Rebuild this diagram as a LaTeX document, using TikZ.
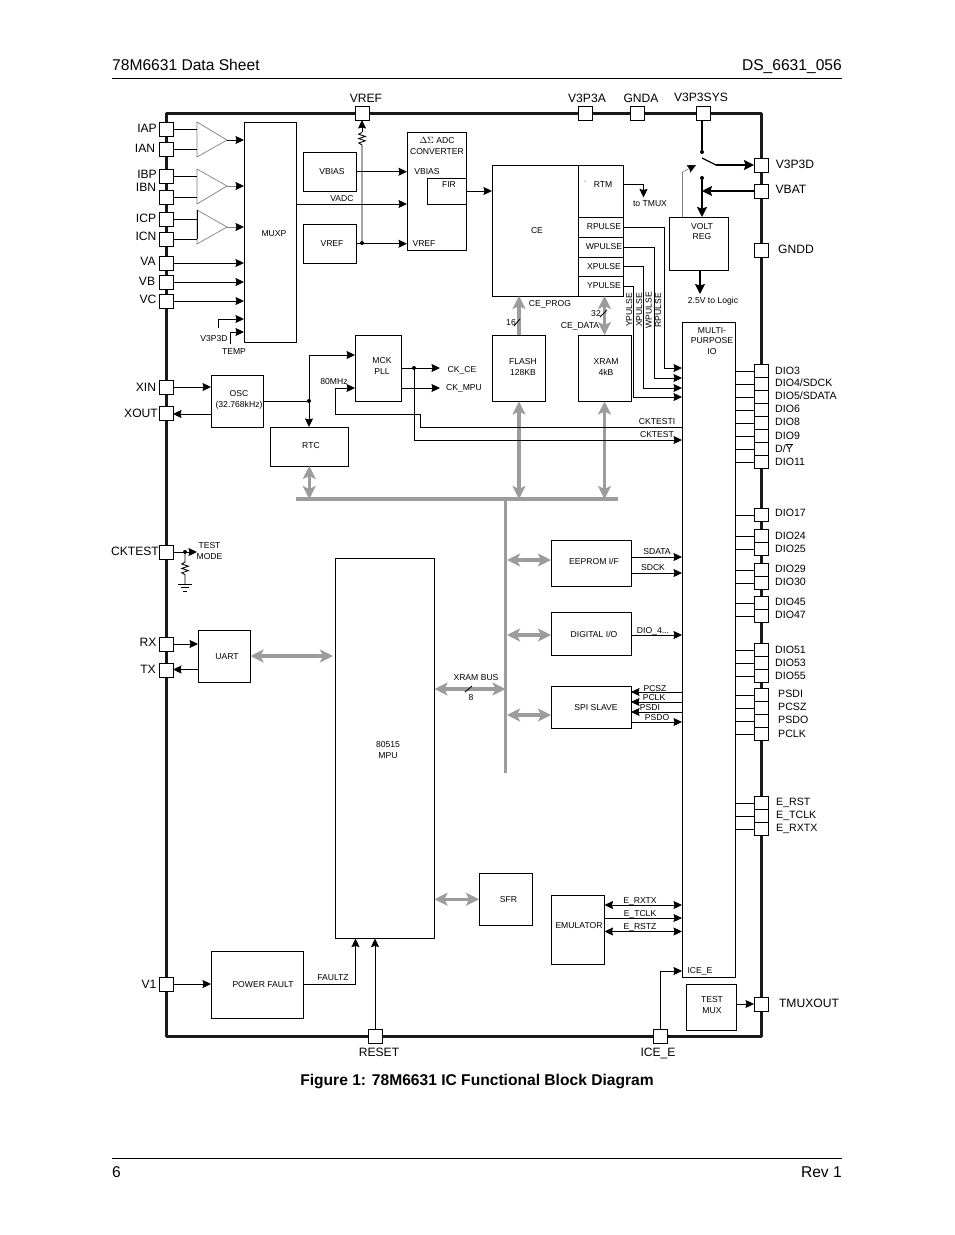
\documentclass[tikz,border=0pt]{standalone}
\usepackage{fontspec}
\setmainfont{Liberation Sans}
\usetikzlibrary{arrows.meta, positioning}
\definecolor{busgray}{HTML}{9C9C9C}
\definecolor{ampgray}{HTML}{808080}
\newcommand{\ovY}{$\overline{\mbox{Y}}$}
% box given by its corners
\newcommand{\blk}[5]{\node[block, minimum width={(#4-#2)*1pt}, minimum height={(#5-#3)*1pt}] (#1) at ({(#2+#4)/2},{(#3+#5)/2}) {};}
\tikzset{
  block/.style={draw, fill=white, line width=0.95pt, inner sep=0pt, outer sep=0pt},
  pin/.style={draw, fill=white, line width=0.95pt, inner sep=0pt, outer sep=0pt, minimum width=14pt, minimum height=14pt},
  spin/.style={pin, minimum height=13pt},
  wire/.style={line width=0.85pt},
  sig/.style={wire, -{Stealth[length=8.5pt,width=8pt,inset=1pt]}},
  graysig/.style={wire, ampgray, -{Stealth[length=8.5pt,width=8pt,inset=1pt,black]}},
  sigb/.style={wire, {Stealth[length=8.5pt,width=8pt,inset=1pt]}-{Stealth[length=8.5pt,width=8pt,inset=1pt]}},
  pwr/.style={line width=1.7pt, -{Stealth[length=10pt,width=10pt,inset=1.5pt]}},
  bus/.style={line width=3.2pt, busgray, {Stealth[length=13pt,width=13pt,inset=3pt]}-{Stealth[length=13pt,width=13pt,inset=3pt]}},
  busone/.style={line width=3.2pt, busgray, -{Stealth[length=13pt,width=13pt,inset=3pt]}},
  amp/.style={draw=ampgray, line width=0.7pt},
  dotn/.style={circle, fill=black, inner sep=0pt, minimum size=4pt},
  txt/.style={font=\fontsize{8.6}{10.3}\selectfont, inner sep=0pt, text height=6.2pt, text depth=0pt},
  mtxt/.style={font=\fontsize{8.6}{10.3}\selectfont, inner sep=0pt, align=center},
  diolab/.style={font=\fontsize{10.6}{12}\selectfont, inner sep=0pt, anchor=west, yshift=-0.7pt, text height=7.6pt, text depth=0pt},
  pinlab/.style={font=\fontsize{12.1}{14}\selectfont, inner sep=0pt, text height=8.7pt, text depth=0pt},
  head/.style={font=\fontsize{15.6}{18}\selectfont, inner sep=0pt},
}
\begin{document}
\begin{tikzpicture}[x=1pt,y=-1pt]
\useasboundingbox (0,0) rectangle (954,1235);

% page header and footer
\node[head, anchor=base west] (title) at (112,70) {78M6631 Data Sheet};
\node[head, anchor=base east] (docnum) at (842,70) {DS\_6631\_056};
\draw[line width=0.7pt] (112,78.5) -- (842,78.5);
\draw[line width=0.7pt] (112,1158.5) -- (842,1158.5);
\node[head, anchor=base west] (pageno) at (112,1177) {6};
\node[head, anchor=base east] (rev) at (842,1177) {Rev 1};
\node[head, font=\fontsize{15.6}{18}\selectfont\bfseries, anchor=base] (caption) at (477,1085.5) {Figure 1: 78M6631 IC Functional Block Diagram};

% chip outline
\draw[line width=3pt, line join=round, black!90] (166,113) rectangle (761,1036);

% pins
\foreach \pn/\py in {IAP/129, IAN/149, IBP/176, IBN/197, ICP/219, ICN/239, VA/263, VB/282, VC/301,
    XIN/387, XOUT/413, CKTEST/552, RX/644, TX/670, VI/984} {
  \node[pin] (pin\pn) at (166,\py) {};
}
\foreach \pn/\lx/\ly/\lt in {IAP/147/128/IAP, IAN/145/148/IAN, IBP/147/174/IBP, IBN/146/187/IBN,
    ICP/146/218/ICP, ICN/146/236/ICN, VA/148/261/VA, VB/147/281/VB, VC/148/299/VC,
    XIN/146/387/XIN, XOUT/141/413/XOUT, CKTEST/135/551/CKTEST, RX/148/642/RX, TX/148/669/TX, VI/149/984/V1} {
  \node[pinlab] (lab\pn) at (\lx,\ly) {\lt};
}
\foreach \pn/\px/\py/\lx/\ly/\lt in {VREF/362/113/366/98/VREF, VA3/585/113/587/98/V3P3A, GNDA/637/113/641/98/GNDA,
    VSYS/703/113/701/97/V3P3SYS, VD/761/165/795/164/V3P3D, VBAT/761/191/791/189/VBAT, GNDD/761/250/796/249/GNDD,
    TMUX/761/1004/809/1003/TMUXOUT, RESET/375/1036/379/1052/RESET, ICE/660/1036/658/1052/ICE\_E} {
  \node[pin] (pin\pn) at (\px,\py) {};
  \node[pinlab] (lab\pn) at (\lx,\ly) {\lt};
}

% blocks
\blk{MUXP}{244}{122}{296}{342}
\blk{VBIASB}{303}{152}{356}{191.5}
\blk{VREFB}{303}{224}{356}{263.5}
\blk{ADC}{407}{132}{466.5}{250}
\blk{FIR}{427}{178}{466.5}{204}
\blk{CE}{492}{165}{578}{296}
\blk{RTM}{578}{165}{623.5}{217.5}
\blk{RP}{578}{217.5}{623.5}{237}
\blk{WP}{578}{237}{623.5}{257}
\blk{XP}{578}{257}{623.5}{276}
\blk{YP}{578}{276}{623.5}{296}
\blk{VREG}{669}{217}{728.5}{270}
\blk{FLASH}{492}{335}{545.5}{401.5}
\blk{XRAM}{578}{335}{631}{401.5}
\blk{MCK}{355}{335}{401.5}{401}
\blk{OSC}{211}{375}{263.5}{427}
\blk{RTC}{270}{427}{348.5}{466}
\blk{MPIO}{682}{322}{735.5}{977}
\blk{MPU}{335}{558.5}{434.5}{938.5}
\blk{UART}{198}{630}{250.5}{682}
\blk{EEPROM}{551}{540}{631}{586}
\blk{DIGIO}{551}{612}{631}{655.5}
\blk{SPI}{551}{686}{631}{728.5}
\blk{SFR}{479}{873}{532.5}{925.5}
\blk{EMU}{551}{895}{604.5}{964}
\blk{TMUXB}{686}{984}{736}{1030.5}
\blk{PFAULT}{211}{951}{303.5}{1018}

% block texts
\node[txt] (tMUXP) at (274,233) {MUXP};
\node[txt] (tVBIAS) at (332,171) {VBIAS};
\node[txt] (tVREF) at (332,243) {VREF};
\node[mtxt] (tADC) at (437,146) {$\Delta\Sigma$ ADC\\CONVERTER};
\node[txt] (tVB2) at (427,171) {VBIAS};
\node[txt] (tVR2) at (424,243) {VREF};
\node[txt] (tFIR) at (449,184) {FIR};
\node[txt] (tCE) at (537,230) {CE};
\node[txt] (tRTM) at (603,184) {RTM};
\node[txt] (tRP) at (604,226) {RPULSE};
\node[txt] (tWP) at (604,246) {WPULSE};
\node[txt] (tXP) at (604,266) {XPULSE};
\node[txt] (tYP) at (604,285) {YPULSE};
\node[mtxt] (tVREG) at (702,231.5) {VOLT\\REG};
\node[mtxt] (tFLASH) at (523,367) {FLASH\\128KB};
\node[mtxt] (tXRAM) at (606,367) {XRAM\\4kB};
\node[mtxt] (tMCK) at (382,366) {MCK\\PLL};
\node[mtxt] (tOSC) at (239,400) {OSC\\(32.768kHz)};
\node[txt] (tRTC) at (311,445) {RTC};
\node[mtxt] (tMPIO) at (712,341) {MULTI-\\PURPOSE\\IO};
\node[mtxt] (tMPU) at (388,750) {80515\\MPU};
\node[txt] (tUART) at (227,656) {UART};
\node[txt] (tEE) at (594,561) {EEPROM I/F};
\node[txt] (tDIG) at (594,634) {DIGITAL I/O};
\node[txt] (tSPI) at (596,707) {SPI SLAVE};
\node[txt] (tSFR) at (508.5,899.5) {SFR};
\node[txt] (tEMU) at (579,925) {EMULATOR};
\node[mtxt] (tTM) at (712,1005) {TEST\\MUX};
\node[txt] (tPF) at (263,984) {POWER FAULT};
\node[txt] (tICE) at (700,970) {ICE\_E};

% amplifiers
\coordinate (ampL) at (197,122);
\coordinate (ampAo) at (227,140);
\coordinate (ampBo) at (227,186);
\coordinate (ampCo) at (227,227);
\draw[amp] (197,122) -- (ampAo) -- (197,157) -- cycle;
\draw[amp] (197,169) -- (ampBo) -- (197,204) -- cycle;
\draw[amp] (197,210) -- (ampCo) -- (197,244) -- cycle;
\foreach \pn in {IAP,IAN,IBP,IBN,ICP,ICN} {
  \draw[wire] (pin\pn.east) -- (ampL |- pin\pn);
}
\draw[wire] (ampL |- 0,210) -- (ampL |- pinICN);
\draw[sig] (ampAo) -- (ampAo -| MUXP.west);
\draw[graysig] (ampBo) -- (ampBo -| MUXP.west);
\draw[graysig] (ampCo) -- (ampCo -| MUXP.west);
\foreach \pn in {VA,VB,VC} {
  \draw[sig] (pin\pn.east) -- (MUXP.west |- pin\pn);
}
\node[txt] (tV3) at (214,338) {V3P3D};
\node[txt] (tTEMP) at (234,351) {TEMP};
\draw[sig] (218,328) |- (MUXP.west |- 0,319);
\draw[sig] (230,344) |- (MUXP.west |- 0,332);

% analog front end
\draw[sig] (VBIASB.east) -- (ADC.west |- VBIASB);
\draw[sig] (MUXP.east |- 0,204) -- (ADC.west |- 0,204);
\node[txt] (tVADC) at (342,198) {VADC};
\node[dotn] (dotVR) at (362,243) {};
\draw[sig] (VREFB.east) -- (ADC.west |- VREFB);
\draw[wire] (dotVR) -- (362,145) -- ++(-3.3,-2) -- ++(6.6,-2.2) -- ++(-6.6,-2.2) -- ++(6.6,-2.2) -- ++(-6.6,-2.2) -- ++(3.3,-1.8) coordinate (resVR);
\draw[sig] (resVR) -- (pinVREF.south);
\draw[sig] (FIR.east) -- (FIR.east -| CE.west);
\node[dotn, minimum size=1pt] (tick) at (585,181) {};

% CE outputs
\draw[sig] (RTM.east |- tRTM) -| (643.5,197.5);
\node[txt] (tTMUX) at (650,203) {to TMUX};
\draw[sig] (RP.east) -| (664,368) -- (MPIO.west |- 0,368);
\draw[sig] (WP.east) -| (654,378) -- (MPIO.west |- 0,378);
\draw[sig] (XP.east) -| (643.5,388) -- (MPIO.west |- 0,388);
\draw[sig] (YP.east) -| (633.5,397) -- (MPIO.west |- 0,397);
\node[txt, rotate=90] (tYP2) at (629,310) {YPULSE};
\node[txt, rotate=90] (tXP2) at (639,310) {XPULSE};
\node[txt, rotate=90] (tWP2) at (648.5,310) {WPULSE};
\node[txt, rotate=90] (tRP2) at (658,310) {RPULSE};

% supply switch and regulator
\node[dotn] (dotSa) at (702,152) {};
\node[dotn] (dotSb) at (702,178) {};
\coordinate (blade) at (716,165);
\draw[line width=1.7pt] (pinVSYS.south -| dotSa) -- (dotSa);
\draw[line width=1.2pt] (702,158) -- (blade);
\draw[pwr] (blade) -- (pinVD.west);
\draw[pwr] (pinVBAT.west) -- (dotSb |- pinVBAT);
\draw[pwr] (dotSb) -- (dotSb |- VREG.north);
\draw[graysig, line width=0.6pt] (682.5,217) -- (682.5,172) -- (696,165);
\draw[pwr] (700,270) -- (700,294);
\node[txt] (tLOGIC) at (713,300) {2.5V to Logic};

% memories and internal bus
\coordinate (busL) at (296,499);
\coordinate (busR) at (618,499);
\coordinate (busV) at (505.5,499);
\coordinate (busB) at (505.5,773);
\draw[line width=3.4pt, busgray] (busL) -- (busR);
\draw[line width=3.4pt, busgray] (busV) -- (busB);
\draw[busone] (FLASH.north -| 519,0) -- (519,296);
\draw[bus] (XRAM.north) -- (XRAM.north |- CE.south);
\draw[bus] (FLASH.south -| 519,0) -- (519,499);
\draw[bus] (XRAM.south) -- (XRAM.south |- busL);
\draw[bus] (RTC.south) -- (RTC.south |- busL);
\draw[bus, shorten >=2pt] (UART.east) -- (UART.east -| MPU.west);
\draw[bus] (MPU.east |- 0,689) -- (busV |- 0,689);
\draw[bus] (507,560) -- (EEPROM.west |- 0,560);
\draw[bus] (507,635) -- (DIGIO.west |- 0,635);
\draw[bus] (507,715) -- (SPI.west |- 0,715);
\draw[bus] (MPU.east |- SFR.west) -- (SFR.west);
\node[txt] (t16) at (511,322) {16};
\draw[wire] (514,326) -- ++(6,-7);
\node[txt] (tCEP) at (550,303) {CE\_PROG};
\node[txt] (t32) at (596,313) {32};
\draw[wire] (600,317) -- ++(7,-7);
\node[txt] (tCED) at (580,325) {CE\_DATA};
\node[txt] (tXBUS) at (476,677) {XRAM BUS};
\draw[wire] (465,692) -- ++(7,-6);
\node[txt] (t8) at (471,697) {8};

% clocks
\draw[sig] (pinXIN.east) -- (OSC.west |- pinXIN);
\draw[sig] (OSC.west |- 0,414) -- (pinXOUT.east |- 0,414);
\node[dotn] (dotOSC) at (309,401) {};
\draw[wire] (OSC.east |- dotOSC) -- (dotOSC);
\draw[sig] (dotOSC) |- (MCK.west |- 0,355);
\draw[sig] (dotOSC) -- (dotOSC |- RTC.north);
\node[txt] (t80) at (334,381) {80MHz};
\draw[sig] (MPIO.west |- 0,427) -- (420,427) |- (335.5,414) |- (MCK.west |- 0,388);
\node[dotn] (dotCK) at (414,368) {};
\draw[sig] (MCK.east |- dotCK) -- (440,368);
\draw[sig] (MCK.east |- 0,388) -- (440,388);
\draw[sig] (dotCK) |- (MPIO.west |- 0,440);
\node[txt] (tCKCE) at (462,369) {CK\_CE};
\node[txt] (tCKMPU) at (464,387) {CK\_MPU};
\node[txt] (tCKTI) at (657,421) {CKTESTI};
\node[txt] (tCKT) at (657,434) {CKTEST};

% test mode
\node[dotn] (dotTM) at (185,552) {};
\coordinate (tmArrow) at (197,552);
\draw[sig] (pinCKTEST.east) -- (tmArrow);
\node[mtxt] (tTMODE) at (209.5,551) {TEST\\MODE};
\draw[wire] (dotTM) -- (185,562) -- ++(-3.3,2) -- ++(6.6,2.2) -- ++(-6.6,2.2) -- ++(6.6,2.2) -- ++(-6.6,2.2) -- ++(3.3,1.8) -- (185,584) coordinate (gnd);
\draw[wire] (178,584) -- (192,584);
\draw[wire] (181,587.7) -- (189,587.7);
\draw[wire] (183,591) -- (187,591);

% uart, power fault, reset
\draw[sig] (pinRX.east) -- (UART.west |- pinRX);
\draw[sig] (UART.west |- 0,669.5) -- (pinTX.east |- 0,669.5);
\draw[sig] (pinVI.east) -- (PFAULT.west |- pinVI);
\draw[sig] (PFAULT.east) -| (355.5,938.5);
\node[txt] (tFAULT) at (333,977) {FAULTZ};
\draw[sig] (pinRESET.north) -- (pinRESET.north |- MPU.south);

% peripherals to io block
\draw[sig] (EEPROM.east |- 0,557) -- (MPIO.west |- 0,557);
\draw[sig] (EEPROM.east |- 0,573) -- (MPIO.west |- 0,573);
\node[txt] (tSDATA) at (657,551) {SDATA};
\node[txt] (tSDCK) at (653,567) {SDCK};
\draw[sig] (DIGIO.east |- 0,635) -- (MPIO.west |- 0,635);
\node[txt] (tDIO4) at (653,630) {DIO\_4...};
\draw[sig] (MPIO.west |- 0,692) -- (SPI.east |- 0,692);
\draw[sig] (MPIO.west |- 0,702) -- (SPI.east |- 0,702);
\draw[sig] (MPIO.west |- 0,712) -- (SPI.east |- 0,712);
\draw[sig] (SPI.east |- 0,722) -- (MPIO.west |- 0,722);
\node[txt] (tPCSZ) at (655,688) {PCSZ};
\node[txt] (tPCLK) at (654,697) {PCLK};
\node[txt] (tPSDI) at (650,707) {PSDI};
\node[txt] (tPSDO) at (657,717) {PSDO};
\draw[sigb] (EMU.east |- 0,905) -- (MPIO.west |- 0,905);
\draw[sig] (EMU.east |- 0,918) -- (MPIO.west |- 0,918);
\draw[sigb] (EMU.east |- 0,931.5) -- (MPIO.west |- 0,931.5);
\node[txt] (tERX) at (640,900) {E\_RXTX};
\node[txt] (tETC) at (640,913) {E\_TCLK};
\node[txt] (tERS) at (640,926) {E\_RSTZ};
\draw[sig] (pinICE.north) |- (MPIO.west |- 0,971);
\draw[sig] (TMUXB.east |- pinTMUX) -- (pinTMUX.west);

% dio pins
\foreach \pn/\py/\lx/\ly/\lt in {D3/371/775/370/{DIO3}, D4/384/775/382/{DIO4/SDCK}, D5/397/775/395/{DIO5/SDATA},
    D6/410/775/408/{DIO6}, D8/423/775/421/{DIO8}, D9/436/775/435/{DIO9}, DY/449/775/448/{D/\ovY}, D11/462/775/461/{DIO11},
    D17/515/775/512/{DIO17}, D24/536/775/535/{DIO24}, D25/549/775/548/{DIO25}, D29/570/775/568/{DIO29}, D30/583/775/581/{DIO30},
    D45/603/775/601/{DIO45}, D47/616/775/614/{DIO47}, D51/650/775/649/{DIO51}, D53/663/775/662/{DIO53}, D55/676/775/675/{DIO55},
    PSDI/695/778/693/{PSDI}, PCSZ/708/778/706/{PCSZ}, PSDO/721/778/719/{PSDO}, PCLK/734/778/733/{PCLK},
    ERST/803/776/801/{E\_RST}, ETCK/816/776/814/{E\_TCLK}, ERTX/829/776/827/{E\_RXTX}} {
  \node[spin] (pin\pn) at (761,\py) {};
  \draw[wire] (MPIO.east |- pin\pn) -- (pin\pn.west);
  \node[diolab] (lab\pn) at (\lx,\ly) {\lt};
}
\end{tikzpicture}
\end{document}
